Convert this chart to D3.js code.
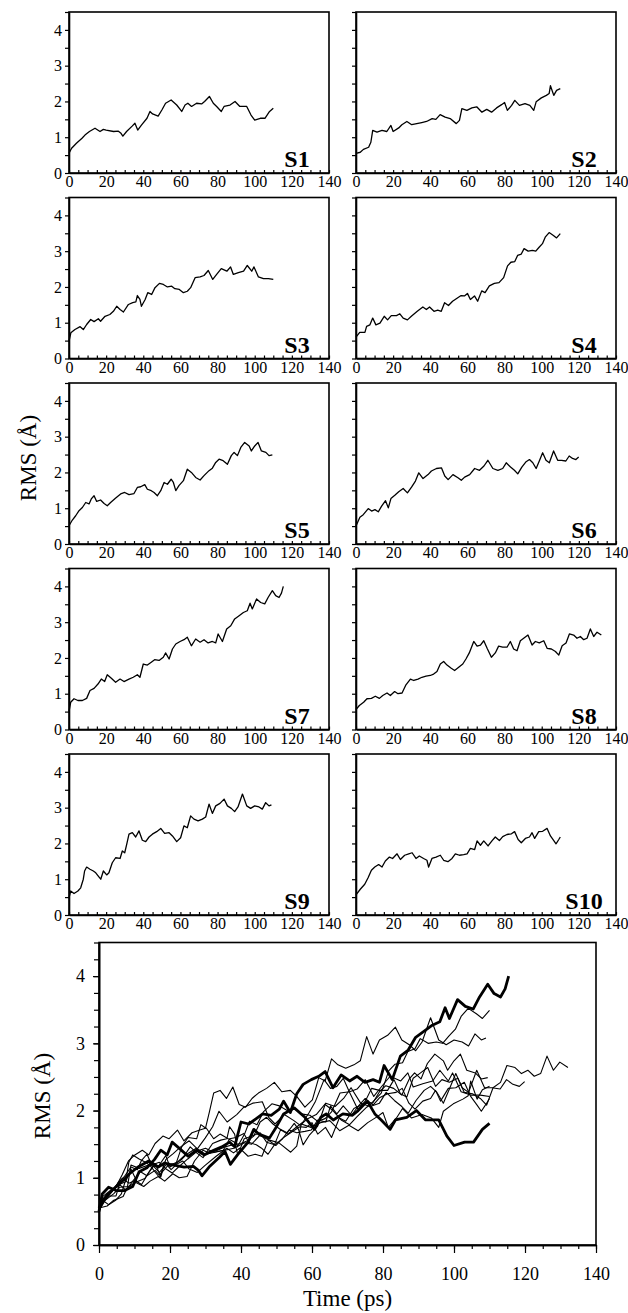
<!DOCTYPE html>
<html><head><meta charset="utf-8">
<script src="https://cdn.jsdelivr.net/npm/d3@7"></script>
<style>body{margin:0;background:#fff}svg{display:block}text{font-family:'Liberation Serif','Times New Roman',serif}</style>
</head><body>
<svg id="c" width="628" height="1313"></svg>
<script>
// ---- data (time in ps, RMS in Å) ----
const seriesNames = ["S1","S2","S3","S4","S5","S6","S7","S8","S9","S10"];
const timeS1 = [0,1.4,4,7,8.6,11,14,16.7,18.5,20,24,26.6,28,29,31,34,35.5,37,39,42,43.6,45,48,50,52,55,58,60.7,62.5,64,66,68.7,71.4,73,75.6,77.7,79.5,82,83.5,86.7,89.4,92,95.7,98,100,103,105.5,108,110];
const rmsS1  = [0.55,0.69,0.83,0.97,1.06,1.16,1.25,1.16,1.22,1.2,1.16,1.17,1.11,1.03,1.16,1.31,1.39,1.2,1.34,1.53,1.72,1.65,1.59,1.76,1.95,2.04,1.9,1.72,1.9,1.95,1.86,1.95,1.93,2.0,2.14,1.95,1.86,1.72,1.86,1.9,2.0,1.86,1.86,1.62,1.48,1.53,1.53,1.72,1.81];
const timeS2 = [0,2.3,4,6.8,8,9,11.3,14,16.6,18.8,20,23,24.7,27.4,30,32.7,35.4,38,41,43,45.3,48,50.7,54,55.7,57,59.7,62.4,65,67.8,70.4,73,75.7,78.4,80,81.5,83.8,85.5,88,91,93.6,95.7,97,99.8,102.5,104,104.7,106.5,108,110];
const rmsS2  = [0.55,0.58,0.66,0.72,0.86,1.19,1.14,1.19,1.16,1.33,1.16,1.26,1.35,1.44,1.35,1.38,1.41,1.44,1.52,1.5,1.63,1.56,1.52,1.38,1.47,1.8,1.75,1.82,1.85,1.7,1.78,1.7,1.82,1.91,1.97,1.75,1.89,2.03,1.89,1.94,1.89,1.75,1.99,2.1,2.17,2.22,2.44,2.17,2.31,2.36];
const timeS3 = [0,1,3.2,6,7.7,9.5,11.7,13.5,15.8,17,19.4,22,23.9,25.7,27.5,29.3,32,34.3,36,36.8,38.2,39,41,42.4,44.5,46.3,48.7,50.8,53,55.3,57,59.4,61.6,63.7,65.5,67.9,70.6,72.7,75,77.4,79.5,82,85,87,88.5,91.2,94,96,98.4,99.6,102,104.7,107.4,110];
const rmsS3  = [0.48,0.72,0.81,0.89,0.81,0.95,1.09,1.03,1.11,1.04,1.18,1.23,1.32,1.46,1.37,1.3,1.51,1.56,1.58,1.76,1.65,1.46,1.65,1.84,1.79,1.98,2.1,2.07,2.0,2.02,1.95,1.93,1.84,1.88,1.98,2.26,2.28,2.32,2.46,2.21,2.35,2.51,2.44,2.56,2.35,2.4,2.44,2.6,2.44,2.56,2.28,2.23,2.23,2.21];
const timeS4 = [0,2,4.8,5.7,7.5,9,10.7,12.9,15.2,17,19,21.8,23.6,25.4,27.7,29.8,33,36,37.9,39.6,42,44,45.9,47.7,49.8,52,54.8,56.6,58.4,60,61.6,63.8,65.5,67.7,69.5,71.8,74.5,77,79.5,81.6,83.4,85.5,87,89,90.5,92.7,95,96.8,98.6,100.4,102,104,106.3,108,110];
const rmsS4  = [0.6,0.73,0.73,0.9,0.94,1.13,0.94,0.99,1.18,1.08,1.2,1.2,1.25,1.13,1.08,1.18,1.32,1.44,1.37,1.44,1.32,1.35,1.32,1.56,1.48,1.6,1.7,1.76,1.75,1.82,1.65,1.75,1.6,1.89,1.84,2.03,2.1,2.12,2.26,2.59,2.69,2.71,2.88,2.92,3.07,3.0,3.02,3.0,3.11,3.21,3.4,3.52,3.44,3.37,3.49];
const timeS5 = [0,1.8,3.6,5.4,7.2,9,10.8,12,13.5,14.9,17,18.9,20.6,22.4,25,27.8,30,32.3,35,36.8,38.6,40.8,42.2,44.3,45.8,47.6,49.4,51.2,53,55,56.2,57.5,59.2,61.6,63.7,65.9,68.2,70.6,72.7,75.4,77.2,79,80.8,83,85.3,87.4,88.9,90.7,92.5,94.6,97,98.2,100,101.8,103.6,106,107.7,109.5];
const rmsS5  = [0.51,0.67,0.79,0.93,1.02,1.16,1.12,1.26,1.35,1.19,1.23,1.13,1.07,1.16,1.28,1.4,1.44,1.38,1.41,1.58,1.6,1.66,1.53,1.49,1.44,1.35,1.49,1.72,1.67,1.81,1.72,1.49,1.63,1.77,2.09,2.0,1.86,1.79,1.91,2.05,2.12,2.28,2.37,2.33,2.23,2.47,2.56,2.47,2.7,2.84,2.74,2.6,2.74,2.84,2.6,2.56,2.47,2.49];
const timeS6 = [0,2.1,3.9,6.6,8.4,10.2,12,13.8,15.9,17.4,18.8,20.9,23,25.4,27.7,29.9,32,33.8,36.1,38.8,40.6,43.3,46,47.8,49.6,52.2,54.9,56.7,58.5,61.2,63.9,66.5,68.9,71,73.7,76.4,79,80.9,83.2,85.3,87.1,89.3,91.6,93.4,95.2,97,98.7,100.5,102.3,104.1,106.4,108.6,110.7,113,114.8,116.6,118.4,119.9];
const rmsS6  = [0.5,0.75,0.82,0.99,0.92,0.96,0.9,1.06,1.21,1.01,1.27,1.36,1.46,1.55,1.43,1.59,1.76,1.99,1.83,1.94,2.04,2.11,2.13,1.9,1.8,1.94,1.85,1.78,1.87,1.94,2.11,2.06,2.18,2.34,2.11,2.06,2.11,2.27,2.15,2.06,1.96,2.15,2.3,2.36,2.27,2.11,2.32,2.55,2.34,2.27,2.6,2.34,2.34,2.32,2.46,2.39,2.36,2.43];
const timeS7 = [0,0.9,2.7,4.8,7.2,9.5,11.3,13.5,15.6,17.4,19.2,20.6,22.8,25.1,27.5,29.6,32.3,34.6,36.8,38.2,40,42.2,44.3,46.1,48.5,50.8,52,53.9,55.7,57.5,59.8,61.9,63.7,65.9,68.2,70.6,72.7,74.9,77.2,79,80.3,82.6,84.9,87.1,89.2,91.6,93.9,96,97.5,98.7,101,103.2,105.4,107.2,109.5,111.3,113.1,114.4,115.4];
const rmsS7  = [0.5,0.76,0.86,0.81,0.81,0.87,1.09,1.15,1.27,1.41,1.34,1.53,1.43,1.32,1.41,1.34,1.41,1.46,1.53,1.46,1.83,1.8,1.88,1.95,1.93,2.02,2.14,1.97,2.25,2.39,2.46,2.51,2.58,2.34,2.53,2.44,2.51,2.42,2.46,2.42,2.67,2.46,2.81,2.9,3.09,3.18,3.27,3.32,3.53,3.37,3.65,3.55,3.51,3.69,3.88,3.74,3.69,3.81,4.0];
const timeS8 = [0,1.8,4.1,5.9,8.3,10.4,12.6,14.4,16.7,18.5,20.8,22.6,24.8,26.9,29.3,31.1,33.4,35.5,37.7,40,41.8,43.6,45.4,47.2,49,51.3,53.1,55.3,57.5,59.2,61,63.4,65.2,67,68.8,70.6,72.9,75,76.8,79,81.3,83.1,84.9,86.7,88.5,90.3,92.6,94.8,96.6,98.7,101.1,102.9,105.2,107.4,109.2,111,113.1,114.9,117.2,119,120.8,122.6,124.4,126.2,128,129.8,132.1];
const rmsS8  = [0.56,0.67,0.76,0.86,0.87,0.93,0.87,0.95,1.02,0.95,1.06,1.0,1.02,1.25,1.41,1.37,1.41,1.46,1.49,1.51,1.55,1.62,1.83,1.9,1.8,1.71,1.65,1.74,1.83,1.97,2.14,2.46,2.33,2.36,2.48,2.27,2.02,2.14,2.33,2.3,2.3,2.46,2.25,2.2,2.48,2.55,2.64,2.36,2.46,2.42,2.48,2.27,2.25,2.18,2.08,2.34,2.42,2.67,2.64,2.55,2.6,2.51,2.55,2.81,2.6,2.72,2.64];
const timeS9 = [0,0.9,2.7,4.8,6.3,7.7,8.4,9.5,11.3,13.1,14.4,16.2,17.1,18.5,20.3,21.5,23.3,25.1,27.5,28.7,30,31.1,32.3,34.1,35.9,37.7,39.5,41.3,43.1,44.9,47.2,49.4,51.5,53.9,55.7,58,60.1,61.9,63.7,65.5,67.3,69.5,71.8,73.6,75.4,77.2,79,81.3,83.5,85.3,87.4,89.2,91,93.4,95.7,97.8,100,102.3,104.1,105.9,107.7,109];
const rmsS9  = [0.48,0.67,0.6,0.67,0.76,1.0,1.23,1.34,1.28,1.23,1.18,1.06,1.0,1.23,1.12,1.18,1.46,1.6,1.58,1.79,1.74,1.98,2.26,2.3,2.18,2.35,2.09,2.05,2.18,2.26,2.33,2.42,2.28,2.3,2.21,2.05,2.16,2.49,2.44,2.77,2.68,2.63,2.68,2.74,3.1,2.84,3.05,3.12,3.24,3.05,2.98,2.89,3.02,3.38,3.05,2.98,3.05,3.02,2.96,3.14,3.05,3.08];
const timeS10 = [0,2.3,4.7,6.5,8.3,10.1,12.2,14,15.8,18,19.7,22.1,23.9,26.2,28.4,30.2,32.3,34.1,36.4,38.2,39.1,40.9,43.1,45.4,47.2,49.5,51.7,53.5,55.7,58,59.8,61.6,63.9,65.2,67,68.8,71.1,73.3,75,77.2,79,81.3,83.7,85.4,87.3,89,91.2,93.4,94.8,96.2,98.4,100.5,102.9,104.7,106.5,107.7,109.2,110];
const rmsS10  = [0.56,0.72,0.86,1.04,1.25,1.34,1.41,1.34,1.51,1.62,1.58,1.71,1.55,1.67,1.71,1.74,1.58,1.65,1.58,1.53,1.34,1.58,1.62,1.67,1.53,1.49,1.58,1.71,1.67,1.69,1.71,1.86,1.83,2.07,1.95,2.07,1.93,2.08,2.18,2.08,2.19,2.25,2.27,2.33,2.11,2.02,2.14,2.18,2.3,2.14,2.33,2.34,2.42,2.21,2.08,1.99,2.11,2.18];
const boldSeries = ["S1","S7"];

// ---- tick labels ----
const xTickLabels = [0,20,40,60,80,100,120,140];
const yTickLabels = [0,1,2,3,4];
const xLabel = "Time (ps)";
const yLabel = "RMS (Å)";

const times = [timeS1,timeS2,timeS3,timeS4,timeS5,timeS6,timeS7,timeS8,timeS9,timeS10];
const rmss  = [rmsS1,rmsS2,rmsS3,rmsS4,rmsS5,rmsS6,rmsS7,rmsS8,rmsS9,rmsS10];
const series = seriesNames.map((n,i)=>({name:n, pts:d3.zip(times[i], rmss[i])}));

const FONT = "'Liberation Serif','Times New Roman',serif";
const svg = d3.select("#c");

function styleAxis(a, fs){
  a.attr("font-family",FONT).attr("font-size",fs);
  a.selectAll("text").attr("font-family",FONT).attr("font-size",fs).attr("fill","#000");
  a.selectAll("line").attr("stroke","#000").attr("stroke-width",1.2);
  a.select(".domain").attr("stroke","#000").attr("stroke-width",1.6);
}

// ---- small panels ----
const pw = 260, ph = 161;
const colX = [69, 356];
const rowTop = i => 12 + i*185.5;
const xs = d3.scaleLinear().domain([0,140]).range([0,pw]);
const ys = d3.scaleLinear().domain([0,4.5]).range([ph,0]);
const lineS = d3.line().x(d=>xs(d[0])).y(d=>ys(d[1]));

series.forEach((s,i)=>{
  const col = i%2, row = Math.floor(i/2);
  const g = svg.append("g").attr("transform",`translate(${colX[col]},${rowTop(row)})`);
  const xa = g.append("g").attr("transform",`translate(0,${ph})`)
    .call(d3.axisBottom(xs).tickValues(d3.range(0,141,5)).tickSize(-3).tickSizeOuter(0).tickPadding(3)
      .tickFormat(d=> xTickLabels.includes(d)? String(d) : ""));
  const ya = g.append("g")
    .call(d3.axisLeft(ys).tickValues(d3.range(0,4.51,0.5)).tickSize(4).tickSizeOuter(0).tickPadding(3)
      .tickFormat(d=> (col===0 && yTickLabels.includes(d))? String(d) : ""));
  styleAxis(xa,16); styleAxis(ya,16);
  g.append("rect").attr("x",0).attr("y",0).attr("width",pw).attr("height",ph)
    .attr("fill","none").attr("stroke","#000").attr("stroke-width",1.6);
  g.append("path").datum(s.pts).attr("d",lineS).attr("fill","none")
    .attr("stroke","#000").attr("stroke-width",1.3).attr("stroke-linejoin","round");
  g.append("text").attr("x",pw-32).attr("y",ph-6).attr("text-anchor","middle")
    .attr("font-family",FONT).attr("font-weight","bold").attr("font-size",24).text(s.name);
});

svg.append("text").attr("transform","translate(36,458) rotate(-90)")
  .attr("text-anchor","middle").attr("font-family",FONT).attr("font-size",23).text(yLabel);

// ---- combined panel ----
const bx = 99, by = 942.5, bw = 497, bh = 302.5;
const xb = d3.scaleLinear().domain([0,140]).range([0,bw]);
const yb = d3.scaleLinear().domain([0,4.5]).range([bh,0]);
const lineB = d3.line().x(d=>xb(d[0])).y(d=>yb(d[1]));
const gb = svg.append("g").attr("transform",`translate(${bx},${by})`);

const xMinor = gb.append("g").attr("transform",`translate(0,${bh})`)
  .call(d3.axisBottom(xb).tickValues(d3.range(0,141,5)).tickSize(4).tickSizeOuter(0).tickFormat(""));
const xMajor = gb.append("g").attr("transform",`translate(0,${bh})`)
  .call(d3.axisBottom(xb).tickValues(xTickLabels).tickSize(8).tickSizeOuter(0).tickPadding(14).tickFormat(d=>String(d)));
const yMinor = gb.append("g")
  .call(d3.axisLeft(yb).tickValues(d3.range(0,4.51,0.25)).tickSize(5).tickSizeOuter(0).tickFormat(""));
const yMajor = gb.append("g")
  .call(d3.axisLeft(yb).tickValues(yTickLabels).tickSize(6).tickSizeOuter(0).tickPadding(8).tickFormat(d=>String(d)));
[xMinor,xMajor,yMinor,yMajor].forEach(a=>styleAxis(a,18));
gb.append("rect").attr("width",bw).attr("height",bh).attr("fill","none")
  .attr("stroke","#000").attr("stroke-width",1.6);
series.forEach(s=>{
  gb.append("path").datum(s.pts).attr("d",lineB).attr("fill","none").attr("stroke","#000")
    .attr("stroke-width", boldSeries.includes(s.name)? 2.8 : 1.1).attr("stroke-linejoin","round");
});
svg.append("text").attr("transform","translate(50,1096) rotate(-90)")
  .attr("text-anchor","middle").attr("font-family",FONT).attr("font-size",23).text(yLabel);
svg.append("text").attr("x",bx+bw/2).attr("y",1306).attr("text-anchor","middle")
  .attr("font-family",FONT).attr("font-size",23).text(xLabel);
</script>
</body></html>
